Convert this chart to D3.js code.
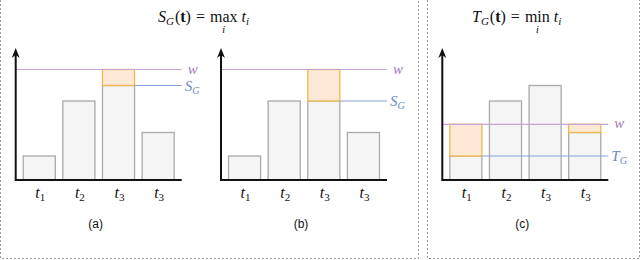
<!DOCTYPE html>
<html>
<head>
<meta charset="utf-8">
<script src="https://cdn.jsdelivr.net/npm/d3@7"></script>
<style>
  body { margin: 0; background: #fff; }
  .serif { font-family: "Liberation Serif", "DejaVu Serif", serif; }
  .sans { font-family: "Liberation Sans", Arial, sans-serif; }
</style>
</head>
<body>
<svg id="chart" width="640" height="260"></svg>
<script>
// bar labels (t with subscript)
const catBase = ["t", "t", "t", "t"];
const catSub = ["1", "2", "3", "3"];

// bar heights per panel
const barsA = [2.4, 7.9, 9.45, 4.75];
const barsB = [2.4, 7.9, 7.9, 4.75];
const barsC = [2.4, 7.9, 9.45, 4.75];

// threshold w and aggregate level per panel
const wVals = [11.05, 11.05, 5.57];
const levelVals = [9.45, 7.9, 2.4];
const levelNames = ["S", "S", "T"];
const panelTags = ["(a)", "(b)", "(c)"];

// which bars overflow up to w
const overA = [2];
const overB = [2];
const overC = [0, 3];

const svg = d3.select("#chart");

// dashed frames
svg.append("path")
  .attr("d", "M0.5,0 V258.5 H418.5 V0")
  .attr("fill", "none").attr("stroke", "#999").attr("stroke-dasharray", "2,2");
svg.append("path")
  .attr("d", "M427.5,0 V258.5 H639.5 V0")
  .attr("fill", "none").attr("stroke", "#999").attr("stroke-dasharray", "2,2");

const y = d3.scaleLinear().domain([0, 13]).range([180, 50]);

const panels = [
  { x0: 15.7, bars: barsA, over: overA, lvlFrom: 2 },
  { x0: 221, bars: barsB, over: overB, lvlFrom: 2 },
  { x0: 442.3, bars: barsC, over: overC, lvlFrom: 0 }
];

panels.forEach(function(p, k) {
  const x = d3.scaleBand().domain(d3.range(4)).range([p.x0, p.x0 + 166])
    .paddingInner(0.19).paddingOuter(0.19);
  const g = svg.append("g");
  const xEnd = p.x0 + 166;

  g.selectAll(".bar").data(p.bars).enter().append("rect")
    .attr("x", (d, i) => x(i))
    .attr("y", d => y(d))
    .attr("width", x.bandwidth())
    .attr("height", d => y(0) - y(d))
    .attr("fill", "#f5f5f5").attr("stroke", "#aaa").attr("stroke-width", 1.3);

  g.selectAll(".over").data(p.over).enter().append("rect")
    .attr("x", i => x(i))
    .attr("y", y(wVals[k]))
    .attr("width", x.bandwidth())
    .attr("height", i => y(p.bars[i]) - y(wVals[k]))
    .attr("fill", "#fde9d6").attr("stroke", "#f2b84b").attr("stroke-width", 1.3);

  // w line
  g.append("line")
    .attr("x1", p.x0).attr("x2", xEnd)
    .attr("y1", y(wVals[k])).attr("y2", y(wVals[k]))
    .attr("stroke", "#c9a3d3").attr("stroke-width", 1.2);
  g.append("text").attr("class", "serif")
    .attr("x", xEnd + 6).attr("y", y(wVals[k]) + 4)
    .attr("font-style", "italic").attr("font-size", 15)
    .attr("fill", "#a37dbb").text("w");

  // S_G / T_G line
  const lx = x(p.lvlFrom) + x.bandwidth();
  g.append("line")
    .attr("x1", lx).attr("x2", xEnd)
    .attr("y1", y(levelVals[k])).attr("y2", y(levelVals[k]))
    .attr("stroke", "#86a2d8").attr("stroke-width", 1.2);
  const lt = g.append("text").attr("class", "serif")
    .attr("x", xEnd + 3).attr("y", y(levelVals[k]) + 5)
    .attr("font-style", "italic").attr("font-size", 15).attr("fill", "#6a8bc9");
  lt.append("tspan").text(levelNames[k]);
  lt.append("tspan").attr("font-size", 10).attr("dy", 3).text("G");

  // axes with arrow
  g.append("line")
    .attr("x1", p.x0).attr("x2", xEnd)
    .attr("y1", y(0)).attr("y2", y(0))
    .attr("stroke", "#111").attr("stroke-width", 2);
  g.append("line")
    .attr("x1", p.x0).attr("x2", p.x0)
    .attr("y1", y(0) + 1).attr("y2", 54)
    .attr("stroke", "#111").attr("stroke-width", 2);
  g.append("path")
    .attr("d", `M${p.x0},48 L${p.x0 - 4},58 L${p.x0},55 L${p.x0 + 4},58 Z`)
    .attr("fill", "#111");

  // tick labels
  const tl = g.selectAll(".tl").data(catBase).enter().append("text")
    .attr("class", "serif")
    .attr("x", (d, i) => x(i) + x.bandwidth() / 2 - 4)
    .attr("y", 198)
    .attr("font-size", 16).attr("font-style", "italic").attr("fill", "#111");
  tl.append("tspan").text(d => d);
  tl.append("tspan").attr("font-size", 11).attr("font-style", "normal").attr("dy", 3)
    .text((d, i) => catSub[i]);

  g.append("text").attr("class", "sans")
    .attr("x", p.x0 + 80).attr("y", 228)
    .attr("text-anchor", "middle").attr("font-size", 12).attr("fill", "#111")
    .text(panelTags[k]);
});

// titles
function title(x0, letter, op) {
  const t = svg.append("text").attr("class", "serif")
    .attr("x", x0).attr("y", 22)
    .attr("font-size", 16).attr("fill", "#111");
  t.append("tspan").attr("font-style", "italic").text(letter);
  t.append("tspan").attr("font-style", "italic").attr("font-size", 11).attr("dy", 3).text("G");
  t.append("tspan").attr("dy", -3).attr("dx", 1).text("(");
  t.append("tspan").attr("font-weight", "bold").text("t");
  t.append("tspan").text(")");
  t.append("tspan").attr("dx", 5).text("=");
  const opSpan = t.append("tspan").attr("dx", 5).text(op);
  t.append("tspan").attr("dx", 4).attr("font-style", "italic").text("t");
  t.append("tspan").attr("font-style", "italic").attr("font-size", 11).attr("dy", 3).text("i");
  // index below the operator
  const n = opSpan.node();
  const s = n.getStartPositionOfChar(0).x;
  const e = n.getEndPositionOfChar(op.length - 1).x;
  svg.append("text").attr("class", "serif").attr("x", (s + e) / 2).attr("y", 33)
    .attr("font-size", 10).attr("font-style", "italic").attr("text-anchor", "middle").text("i");
}
title(158, "S", "max");
title(472, "T", "min");
</script>
</body>
</html>
